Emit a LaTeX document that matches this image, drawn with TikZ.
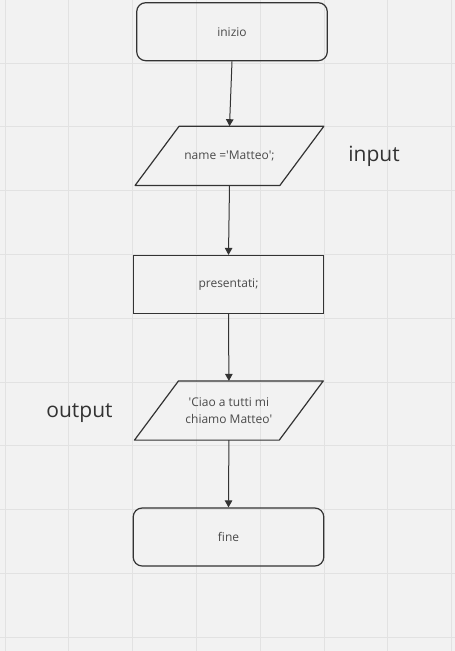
\documentclass[tikz,border=0pt]{standalone}
\usepackage{fontspec}
\setmainfont{Open Sans}
\usetikzlibrary{arrows.meta}
\definecolor{bg}{HTML}{F2F2F2}
\definecolor{gridc}{HTML}{E2E2E2}
\definecolor{ink}{HTML}{333333}
\definecolor{txt}{HTML}{4A4A4A}
\definecolor{lbl}{HTML}{333333}
\newcommand{\sq}{\textquotesingle}
\begin{document}
\begin{tikzpicture}[x=1pt,y=-1pt,
  base/.style={line width=1.2pt, minimum height=58pt, inner sep=0pt, text=txt,
    align=center, font=\fontsize{12}{16.5}\selectfont},
  term/.style={base, draw=ink, rounded corners=9pt, minimum width=190.6pt},
  proc/.style={base, draw=ink, minimum width=190.4pt},
  io/.style={base, minimum width=187.6pt},
  para/.style={draw=ink, line width=1.2pt, line join=round},
  flow/.style={draw=ink, line width=1pt, -{Triangle[length=7pt,width=7.5pt]}},
  side/.style={text=lbl, font=\fontsize{21}{25}\selectfont, inner sep=0pt}
]
\fill[bg] (0,0) rectangle (455,651);
\useasboundingbox (0,0) rectangle (455,651);
\foreach \gx in {0,...,7} \draw[gridc, line width=0.8pt] ({5+63.8*\gx},0) -- ({5+63.8*\gx},651);
\foreach \gy in {1,...,10} \draw[gridc, line width=0.8pt] (0,{-0.8+63.8*\gy}) -- (455,{-0.8+63.8*\gy});

\node[term] (inizio) at (232,31.7) {inizio};
\node[io] (name) at (229.5,155.8) {name =\sq Matteo\sq;};
\draw[para] ([xshift=44pt]name.north west) -- (name.north east) -- ([xshift=-44pt]name.south east) -- (name.south west) -- cycle;
\node[proc] (pres) at (228.5,284.5) {presentati;};
\node[io] (out) at (228.9,410.5) {\sq Ciao a tutti mi\\chiamo Matteo\sq};
\draw[para] ([xshift=44pt]out.north west) -- (out.north east) -- ([xshift=-44pt]out.south east) -- (out.south west) -- cycle;
\node[term] (fine) at (228.5,537) {fine};

\node[side] (input) at (374,156.5) {input};
\node[side] (output) at (79.5,413.5) {output};

\draw[flow] (inizio.south) -- (name.north);
\draw[flow] (name.south) -- (pres.north);
\draw[flow] (pres.south) -- (out.north);
\draw[flow] (out.south) -- (fine.north);
\end{tikzpicture}
\end{document}
